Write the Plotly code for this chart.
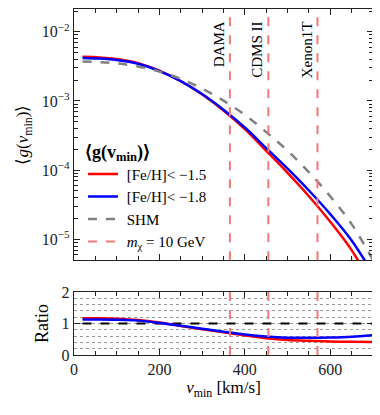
import numpy as np
import plotly.graph_objects as go

# velocity grid [km/s]
v_min = [20, 60, 100, 150, 200, 250, 300, 350, 400, 450, 500, 550, 600, 650, 700]

# <g(v_min)>
g_shm = [3.72e-3, 3.65e-3, 3.50e-3, 3.16e-3, 2.66e-3, 2.09e-3, 1.51e-3, 1.01e-3,
         6.31e-4, 3.55e-4, 1.91e-4, 9.33e-5, 4.17e-5, 1.66e-5, 5.01e-6]
g_fe15 = [4.35e-3, 4.27e-3, 4.04e-3, 3.51e-3, 2.74e-3, 1.93e-3, 1.24e-3, 7.28e-4,
          3.91e-4, 1.90e-4, 9.14e-5, 4.20e-5, 1.79e-5, 6.97e-6, 2.06e-6]
g_fe18 = [4.20e-3, 4.12e-3, 3.92e-3, 3.45e-3, 2.71e-3, 1.94e-3, 1.26e-3, 7.48e-4,
          4.13e-4, 2.08e-4, 1.05e-4, 5.08e-5, 2.31e-5, 9.62e-6, 3.16e-6]

# experiments (v_min for m_chi = 10 GeV)
exp_names = ["DAMA", "CDMS II", "Xenon1T"]
exp_vmin = [365, 455, 570]

ratio_fe15 = list(np.array(g_fe15) / np.array(g_shm))
ratio_fe18 = list(np.array(g_fe18) / np.array(g_shm))

RED = "#ff0000"
BLUE = "#0000ff"
GRAY = "#808080"
PINK = "#f4797c"
INK = "#222222"
FONT = "Liberation Serif"

fig = go.Figure()

fig.add_trace(go.Scatter(x=v_min, y=g_fe15, mode="lines", line=dict(color=RED, width=2.5, shape="spline"),
                         name="&nbsp;[Fe/H]< \u22121.5", xaxis="x", yaxis="y"))
fig.add_trace(go.Scatter(x=v_min, y=g_fe18, mode="lines", line=dict(color=BLUE, width=2.5, shape="spline"),
                         name="&nbsp;[Fe/H]< \u22121.8", xaxis="x", yaxis="y"))
fig.add_trace(go.Scatter(x=v_min, y=g_shm, mode="lines", line=dict(color=GRAY, width=2.5, dash="dash", shape="spline"),
                         name="&nbsp;SHM", xaxis="x", yaxis="y"))
# legend entry for the vertical lines
fig.add_trace(go.Scatter(x=[None], y=[None], mode="lines", line=dict(color=PINK, width=2, dash="dash"),
                         name="&nbsp;<i>m</i><sub>\u03c7</sub> = 10 GeV", xaxis="x", yaxis="y"))

# ratio panel
fig.add_trace(go.Scatter(x=[v_min[0], v_min[-1]], y=[1, 1], mode="lines",
                         line=dict(color="black", width=2, dash="dash"), showlegend=False,
                         xaxis="x2", yaxis="y2"))
fig.add_trace(go.Scatter(x=v_min, y=ratio_fe15, mode="lines", line=dict(color=RED, width=2.5, shape="spline"),
                         showlegend=False, xaxis="x2", yaxis="y2"))
fig.add_trace(go.Scatter(x=v_min, y=ratio_fe18, mode="lines", line=dict(color=BLUE, width=2.5, shape="spline"),
                         showlegend=False, xaxis="x2", yaxis="y2"))

for name, v in zip(exp_names, exp_vmin):
    for xr, yr in (("x", "y domain"), ("x2", "y2 domain")):
        fig.add_shape(type="line", x0=v, x1=v, y0=0, y1=1, xref=xr, yref=yr,
                      line=dict(color=PINK, width=2, dash="dash"), layer="above")
    fig.add_annotation(x=v, y=0.97, xref="x", yref="paper", text=name, textangle=-90,
                       showarrow=False, xanchor="right", yanchor="top", xshift=-1,
                       font=dict(family=FONT, size=15, color="black"))

decades = [1e-5, 1e-4, 1e-3, 1e-2]
minor_vals = [m * d for d in [1e-6, 1e-5, 1e-4, 1e-3, 1e-2] for m in range(2, 10)]

axis_common = dict(showline=True, linecolor=INK, linewidth=1.4, mirror="allticks",
                   ticks="inside", tickcolor=INK, ticklen=6, tickwidth=1.2,
                   showgrid=False, zeroline=False, automargin=False,
                   tickfont=dict(family=FONT, size=16, color=INK))
minor_x = dict(dtick=50, tick0=0, ticks="inside", ticklen=3.5, tickcolor=INK)

# the page body adds an 8px offset, so the figure is sized to fit the window
fig.update_layout(
    width=372, height=407,
    margin=dict(l=66, r=7, t=1, b=60),
    paper_bgcolor="white", plot_bgcolor="white",
    font=dict(family=FONT, size=15, color="black"),
    xaxis=dict(domain=[0, 1], range=[0, 700], anchor="y", tickvals=[0, 200, 400, 600],
               showticklabels=False, minor=minor_x, **axis_common),
    yaxis=dict(domain=[0.274, 1], type="log", range=[-5.302, -1.67], anchor="x",
               tickvals=decades, ticktext=["10<sup>\u22125</sup>", "10<sup>\u22124</sup>",
                                           "10<sup>\u22123</sup>", "10<sup>\u22122</sup>"],
               minor=dict(tickvals=minor_vals, ticks="inside", ticklen=3.5, tickcolor=INK),
               title=dict(text="\u27e8<i>g</i>(<i>v</i><sub>min</sub>)\u27e9", standoff=8,
                          font=dict(family=FONT, size=17)),
               **axis_common),
    xaxis2=dict(domain=[0, 1], range=[0, 700], anchor="y2", tickvals=[0, 200, 400, 600],
                minor=minor_x,
                title=dict(text="<i>v</i><sub>min</sub> [km/s]", standoff=3, font=dict(family=FONT, size=17)),
                **axis_common),
    yaxis2=dict(domain=[0, 0.182], range=[0, 2], anchor="x2", tickvals=[0, 1, 2],
                minor=dict(dtick=0.2, tick0=0, ticks="", showgrid=True, gridcolor="#9a9a9a",
                           griddash="dot", gridwidth=1),
                title=dict(text="Ratio", standoff=8, font=dict(family=FONT, size=18)),
                **axis_common),
    legend=dict(x=0.03, y=0.638, xanchor="left", yanchor="top", bgcolor="rgba(0,0,0,0)",
                font=dict(family=FONT, size=15), itemwidth=30, tracegroupgap=0,
                title=dict(text="<b>\u27e8g(v<sub>min</sub>)\u27e9</b>", font=dict(family=FONT, size=18))),
)

fig.write_html("out.html")
